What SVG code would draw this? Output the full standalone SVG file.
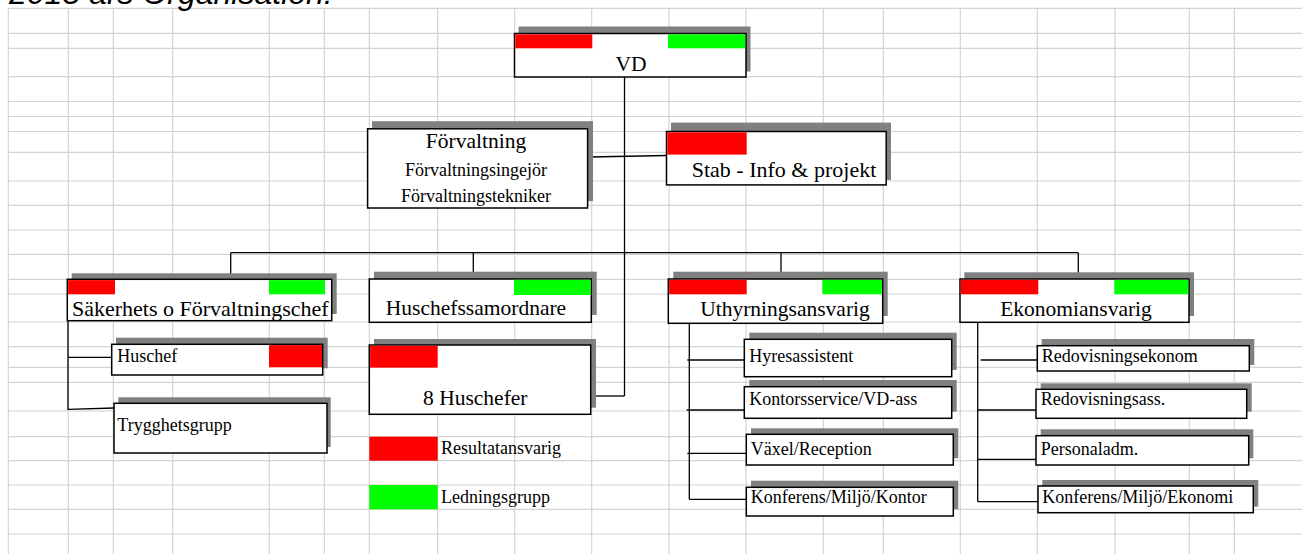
<svg xmlns="http://www.w3.org/2000/svg" width="1302" height="554" viewBox="0 0 1302 554">
<style>
.grid line{stroke:#d4d4d4;stroke-width:1.2}
.sh{fill:#808080}
.bx{fill:#fff;stroke:#000;stroke-width:1.5}
.red{fill:#ff0000}
.grn{fill:#00ff00}
.conn line,.conn polyline{stroke:#000;stroke-width:1.3;fill:none}
text{font-family:"Liberation Serif","Times New Roman",serif;fill:#000}
.big{font-size:21.5px}
.mid{font-size:18px}
.sm{font-size:18px}
.title{font-family:"Liberation Sans",Arial,sans-serif;font-style:italic;font-size:32px}
</style>
<rect width="1302" height="554" fill="#fff"/>
<g class="grid">
<line x1="8.3" y1="8.3" x2="8.3" y2="554"/><line x1="68.3" y1="8.3" x2="68.3" y2="554"/><line x1="113.3" y1="8.3" x2="113.3" y2="554"/><line x1="172.7" y1="8.3" x2="172.7" y2="554"/><line x1="269.3" y1="8.3" x2="269.3" y2="554"/><line x1="324.3" y1="8.3" x2="324.3" y2="554"/><line x1="369.3" y1="8.3" x2="369.3" y2="554"/><line x1="437.7" y1="8.3" x2="437.7" y2="554"/><line x1="514.7" y1="8.3" x2="514.7" y2="554"/><line x1="591.7" y1="8.3" x2="591.7" y2="554"/><line x1="669" y1="8.3" x2="669" y2="554"/><line x1="746" y1="8.3" x2="746" y2="554"/><line x1="823.3" y1="8.3" x2="823.3" y2="554"/><line x1="883.3" y1="8.3" x2="883.3" y2="554"/><line x1="960.3" y1="8.3" x2="960.3" y2="554"/><line x1="1037.3" y1="8.3" x2="1037.3" y2="554"/><line x1="1115" y1="8.3" x2="1115" y2="554"/><line x1="1189.3" y1="8.3" x2="1189.3" y2="554"/><line x1="1234.3" y1="8.3" x2="1234.3" y2="554"/>
<line x1="8.3" y1="8.3" x2="1302" y2="8.3"/><line x1="8.3" y1="33.3" x2="1302" y2="33.3"/><line x1="8.3" y1="48.3" x2="1302" y2="48.3"/><line x1="8.3" y1="76.7" x2="1302" y2="76.7"/><line x1="8.3" y1="101.5" x2="1302" y2="101.5"/><line x1="8.3" y1="116.5" x2="1302" y2="116.5"/><line x1="8.3" y1="131.5" x2="1302" y2="131.5"/><line x1="8.3" y1="152.3" x2="1302" y2="152.3"/><line x1="8.3" y1="181" x2="1302" y2="181"/><line x1="8.3" y1="205.3" x2="1302" y2="205.3"/><line x1="8.3" y1="230" x2="1302" y2="230"/><line x1="8.3" y1="254.3" x2="1302" y2="254.3"/><line x1="8.3" y1="279.3" x2="1302" y2="279.3"/><line x1="8.3" y1="294" x2="1302" y2="294"/><line x1="8.3" y1="322" x2="1302" y2="322"/><line x1="8.3" y1="346.7" x2="1302" y2="346.7"/><line x1="8.3" y1="367.3" x2="1302" y2="367.3"/><line x1="8.3" y1="382.3" x2="1302" y2="382.3"/><line x1="8.3" y1="411" x2="1302" y2="411"/><line x1="8.3" y1="436.7" x2="1302" y2="436.7"/><line x1="8.3" y1="460.7" x2="1302" y2="460.7"/><line x1="8.3" y1="485" x2="1302" y2="485"/><line x1="8.3" y1="509.3" x2="1302" y2="509.3"/><line x1="8.3" y1="534" x2="1302" y2="534"/>
</g>
<text class="title" x="9" y="4">2015 års Organisation.</text>
<g class="conn">
<line x1="624.5" y1="77" x2="624.5" y2="396"/>
<line x1="595" y1="396" x2="624.5" y2="396"/>
<line x1="589.5" y1="157" x2="667" y2="155.5"/>
<line x1="230.7" y1="252.7" x2="1078.3" y2="252.7"/>
<line x1="230.7" y1="252.7" x2="230.7" y2="274"/>
<line x1="473.3" y1="252.7" x2="473.3" y2="272"/>
<line x1="781" y1="252.7" x2="781" y2="272"/>
<line x1="1078.3" y1="252.7" x2="1078.3" y2="273"/>
<polyline points="68,320.7 68,410"/>
<line x1="68" y1="357.3" x2="111.7" y2="357.3"/>
<line x1="68" y1="409.3" x2="114" y2="408"/>
<line x1="689.3" y1="323.3" x2="689.3" y2="499.3"/>
<line x1="687.3" y1="360" x2="744.3" y2="360"/>
<line x1="686.7" y1="410" x2="744.3" y2="410"/>
<line x1="687.3" y1="453.3" x2="746.3" y2="453.3"/>
<line x1="689.3" y1="499.3" x2="746.3" y2="499.3"/>
<line x1="977.7" y1="322.3" x2="977.7" y2="501.7"/>
<line x1="980.7" y1="360" x2="1037.3" y2="360"/>
<line x1="977.7" y1="410" x2="1036" y2="410"/>
<line x1="977.7" y1="459.3" x2="1036" y2="459.3"/>
<line x1="977.7" y1="501.7" x2="1038" y2="501.7"/>
</g>
<g id="vd">
<rect class="sh" x="518.5" y="26.5" width="232" height="45"/>
<rect class="bx" x="514.5" y="33.5" width="231.5" height="43.5"/>
<rect class="red" x="515.3" y="34.3" width="77" height="14"/>
<rect class="grn" x="668" y="34.3" width="77.2" height="14"/>
<text class="big" x="631" y="70.5" text-anchor="middle">VD</text>
</g>
<g id="forvaltning">
<rect class="sh" x="372" y="121.2" width="221" height="80"/>
<rect class="bx" x="367.6" y="128.8" width="220" height="79.2"/>
<text class="big" x="476" y="148.4" text-anchor="middle">Förvaltning</text>
<text class="mid" x="476" y="176.3" text-anchor="middle">Förvaltningsingejör</text>
<text class="mid" x="476" y="201.8" text-anchor="middle">Förvaltningstekniker</text>
</g>
<g id="stab">
<rect class="sh" x="671" y="122.6" width="220" height="57.4"/>
<rect class="bx" x="666.5" y="131.5" width="219.7" height="53.4"/>
<rect class="red" x="667.3" y="132.3" width="79.4" height="22.3"/>
<text class="big" x="784" y="177" text-anchor="middle" style="font-size:22px">Stab - Info &amp; projekt</text>
</g>
<g id="sakerhet">
<rect class="sh" x="71.7" y="273.3" width="265" height="40.7"/>
<rect class="bx" x="67.3" y="279.3" width="264.4" height="41.4"/>
<rect class="red" x="68.1" y="280.1" width="46.9" height="14.2"/>
<rect class="grn" x="269" y="280.1" width="56" height="14.2"/>
<text class="big" x="72" y="316" style="font-size:22px">Säkerhets o Förvaltningschef</text>
</g>
<g id="huschef">
<rect class="sh" x="116" y="337.7" width="211.7" height="30.6"/>
<rect class="bx" x="111.7" y="344.3" width="211" height="30.7"/>
<rect class="red" x="269" y="345.1" width="53" height="22.2"/>
<text class="sm" x="117.3" y="361.7">Huschef</text>
</g>
<g id="trygghet">
<rect class="sh" x="118.3" y="397.3" width="212.4" height="49.7"/>
<rect class="bx" x="114" y="403.3" width="213" height="49.7"/>
<text class="sm" x="117.3" y="430.7">Trygghetsgrupp</text>
</g>
<g id="huschefssamordnare">
<rect class="sh" x="374" y="271.7" width="222.7" height="43.3"/>
<rect class="bx" x="369.3" y="279" width="222" height="43.3"/>
<rect class="grn" x="514" y="279.8" width="76.6" height="15.2"/>
<text class="big" x="476" y="315" text-anchor="middle">Huschefssamordnare</text>
</g>
<g id="huschefer">
<rect class="sh" x="374" y="339" width="222" height="68.7"/>
<rect class="bx" x="369.3" y="345" width="221.4" height="69.3"/>
<rect class="red" x="370.1" y="345.8" width="67.6" height="21.9"/>
<text class="big" x="475.3" y="405" text-anchor="middle">8 Huschefer</text>
</g>
<g id="legend">
<rect class="red" x="369.3" y="436.7" width="68.4" height="24"/>
<text class="sm" x="441" y="454.3">Resultatansvarig</text>
<rect class="grn" x="369.3" y="485" width="68.4" height="24.3"/>
<text class="sm" x="441" y="503.3">Ledningsgrupp</text>
</g>
<g id="uthyrning">
<rect class="sh" x="673.3" y="271.7" width="214.4" height="44.3"/>
<rect class="bx" x="668.3" y="279" width="214.4" height="44.3"/>
<rect class="red" x="669.1" y="279.8" width="77.6" height="14.5"/>
<rect class="grn" x="822.3" y="279.8" width="59.6" height="14.5"/>
<text class="big" x="785" y="315.7" text-anchor="middle">Uthyrningsansvarig</text>
</g>
<g id="hyresassistent">
<rect class="sh" x="749.3" y="332.7" width="207.4" height="37.3"/>
<rect class="bx" x="744.3" y="339.3" width="207.4" height="37.4"/>
<text class="sm" x="749.3" y="361.7">Hyresassistent</text>
</g>
<g id="kontorsservice">
<rect class="sh" x="749.3" y="380" width="207.4" height="31.7"/>
<rect class="bx" x="744.3" y="386.7" width="207.4" height="31.6"/>
<text class="sm" x="749.3" y="405">Kontorsservice/VD-ass</text>
</g>
<g id="vaxel">
<rect class="sh" x="751" y="428.3" width="207.3" height="30"/>
<rect class="bx" x="746.3" y="434.3" width="207" height="30.7"/>
<text class="sm" x="750.7" y="455">Växel/Reception</text>
</g>
<g id="konferens-kontor">
<rect class="sh" x="751" y="480.7" width="207.3" height="28.6"/>
<rect class="bx" x="746.3" y="487.3" width="207" height="28.7"/>
<text class="sm" x="750.7" y="503.3">Konferens/Miljö/Kontor</text>
</g>
<g id="ekonomi">
<rect class="sh" x="964.3" y="272.3" width="229.7" height="43.7"/>
<rect class="bx" x="960" y="279" width="229" height="43.3"/>
<rect class="red" x="960.8" y="279.8" width="77.5" height="14.5"/>
<rect class="grn" x="1114.3" y="279.8" width="74" height="14.5"/>
<text class="big" x="1076" y="315.7" text-anchor="middle">Ekonomiansvarig</text>
</g>
<g id="redovisningsekonom">
<rect class="sh" x="1041.7" y="339" width="212.6" height="26"/>
<rect class="bx" x="1037.3" y="345.7" width="212" height="25.3"/>
<text class="sm" x="1041.7" y="361.7">Redovisningsekonom</text>
</g>
<g id="redovisningsass">
<rect class="sh" x="1040.7" y="383.3" width="211" height="28.4"/>
<rect class="bx" x="1036" y="389.3" width="210.7" height="29"/>
<text class="sm" x="1040.7" y="405">Redovisningsass.</text>
</g>
<g id="personaladm">
<rect class="sh" x="1040.7" y="429.3" width="212.6" height="29"/>
<rect class="bx" x="1036" y="435.7" width="212.7" height="29.3"/>
<text class="sm" x="1040.7" y="455">Personaladm.</text>
</g>
<g id="konferens-ekonomi">
<rect class="sh" x="1042.3" y="480" width="216" height="26.7"/>
<rect class="bx" x="1038" y="486" width="215.3" height="26.7"/>
<text class="sm" x="1042.3" y="503.3">Konferens/Miljö/Ekonomi</text>
</g>
</svg>
